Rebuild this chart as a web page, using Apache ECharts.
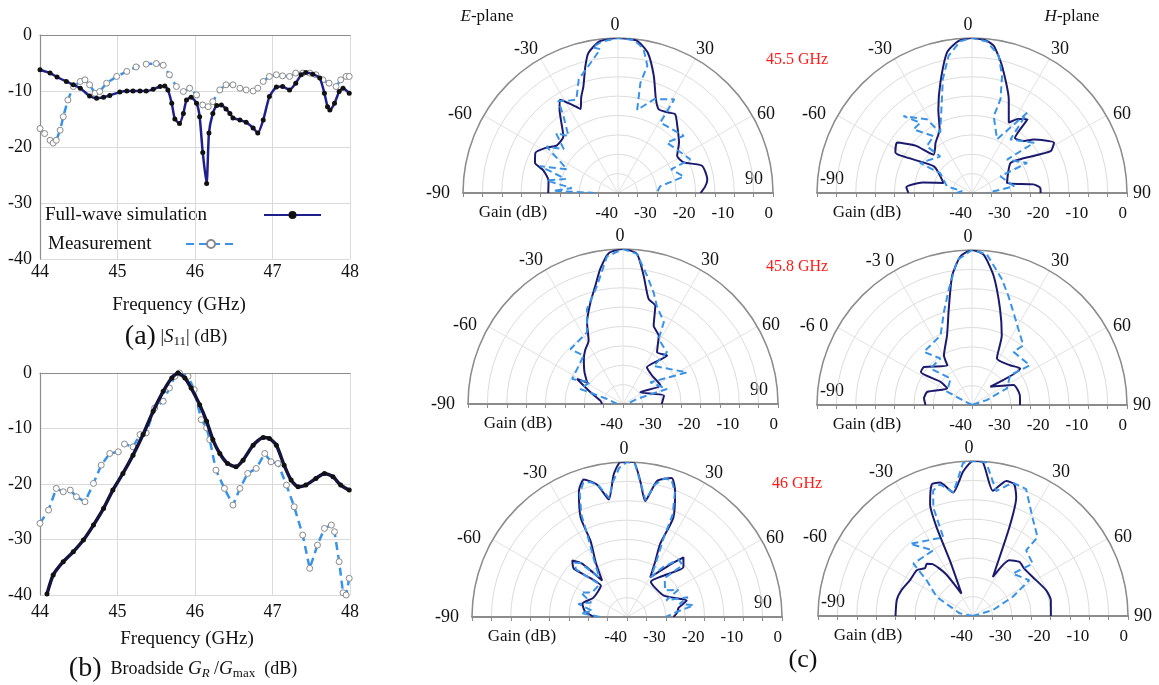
<!DOCTYPE html>
<html>
<head>
<meta charset="utf-8">
<script src="https://cdn.jsdelivr.net/npm/echarts@6/dist/echarts.min.js"></script>
<style>
  html, body { margin: 0; padding: 0; background: #fff; }
  #main { width: 1159px; height: 685px; }
</style>
</head>
<body>
<div id="main"></div>
<script>
// (a) |S11| in dB, [GHz, dB]
const s11Sim = [[44.00,-6.2],[44.13,-6.8],[44.22,-7.5],[44.34,-8.3],[44.43,-8.9],[44.52,-9.5],[44.64,-10.9],[44.73,-11.3],[44.82,-11.1],[44.90,-10.8],[45.03,-10.2],[45.12,-10.0],[45.20,-10.0],[45.29,-10.0],[45.37,-10.0],[45.46,-9.7],[45.55,-9.2],[45.61,-9.1],[45.65,-9.8],[45.70,-12.2],[45.74,-15.0],[45.80,-15.8],[45.85,-14.0],[45.89,-11.6],[45.95,-11.1],[46.02,-12.2],[46.06,-14.6],[46.10,-21.0],[46.15,-26.5],[46.18,-17.5],[46.23,-14.0],[46.28,-12.6],[46.34,-12.5],[46.40,-13.2],[46.45,-14.0],[46.49,-14.8],[46.58,-15.2],[46.66,-15.6],[46.75,-16.6],[46.81,-17.5],[46.88,-15.2],[46.96,-11.0],[47.05,-9.3],[47.13,-9.2],[47.22,-9.8],[47.30,-8.6],[47.37,-7.1],[47.43,-6.7],[47.52,-7.0],[47.61,-7.7],[47.67,-10.4],[47.71,-12.8],[47.74,-13.4],[47.80,-12.2],[47.86,-10.1],[47.91,-9.5],[47.99,-10.4]];
const s11Meas = [[44.00,-16.7],[44.06,-17.6],[44.13,-18.8],[44.17,-19.3],[44.21,-18.8],[44.26,-17.0],[44.30,-14.6],[44.36,-11.6],[44.43,-9.2],[44.52,-8.3],[44.58,-8.0],[44.64,-8.9],[44.71,-10.4],[44.77,-10.1],[44.86,-8.6],[44.99,-7.4],[45.12,-6.5],[45.24,-5.7],[45.37,-5.2],[45.50,-5.1],[45.59,-5.4],[45.67,-7.1],[45.76,-9.2],[45.85,-10.1],[45.93,-9.5],[46.02,-10.7],[46.10,-12.5],[46.17,-12.8],[46.23,-11.9],[46.32,-9.8],[46.40,-8.9],[46.49,-8.9],[46.58,-9.5],[46.66,-9.8],[46.75,-10.0],[46.81,-9.5],[46.88,-8.3],[46.96,-7.4],[47.05,-7.1],[47.13,-7.3],[47.22,-7.4],[47.30,-6.8],[47.39,-6.8],[47.48,-6.8],[47.56,-7.1],[47.65,-8.0],[47.73,-8.6],[47.82,-9.2],[47.88,-8.0],[47.95,-7.4],[47.99,-7.4]];

// (b) broadside G_R/G_max in dB, [GHz, dB]
const gainSim = [[44.09,-39.8],[44.17,-36.4],[44.30,-34.0],[44.43,-32.2],[44.56,-30.1],[44.69,-27.4],[44.82,-24.4],[44.94,-21.1],[45.07,-18.1],[45.20,-14.8],[45.33,-11.1],[45.46,-6.9],[45.59,-3.3],[45.70,-0.9],[45.78,0],[45.87,-0.9],[45.95,-2.7],[46.06,-5.7],[46.15,-8.7],[46.23,-12.0],[46.32,-14.5],[46.42,-16.3],[46.53,-16.9],[46.62,-15.7],[46.75,-13.0],[46.88,-11.6],[46.96,-11.8],[47.05,-13.0],[47.15,-16.6],[47.24,-19.3],[47.33,-20.5],[47.43,-20.2],[47.56,-19.0],[47.67,-18.1],[47.78,-18.7],[47.88,-20.2],[47.99,-21.1]];
const gainMeas = [[44.00,-27.1],[44.11,-24.7],[44.21,-20.8],[44.30,-21.4],[44.39,-21.1],[44.47,-22.3],[44.58,-23.2],[44.69,-19.9],[44.79,-16.6],[44.90,-14.5],[45.01,-14.2],[45.09,-12.8],[45.20,-13.3],[45.29,-11.1],[45.37,-10.8],[45.48,-6.3],[45.59,-5.1],[45.67,-2.7],[45.74,-0.6],[45.80,0],[45.91,-0.6],[45.99,-3.0],[46.08,-8.4],[46.15,-9.9],[46.19,-12.0],[46.27,-17.5],[46.38,-20.8],[46.49,-23.8],[46.58,-20.8],[46.68,-18.1],[46.79,-17.2],[46.90,-14.5],[46.98,-16.0],[47.07,-16.3],[47.18,-20.2],[47.28,-24.1],[47.39,-29.2],[47.48,-35.2],[47.58,-31.0],[47.67,-28.0],[47.76,-27.4],[47.80,-28.6],[47.86,-34.0],[47.91,-39.6],[47.95,-40.0],[47.99,-37.0]];

// (c) radiation patterns, [angle deg, gain dB]
const e455Sim = [[-90,-22],[-80,-21.8],[-73,-19.8],[-70,-17.2],[-64,-16.3],[-58,-18],[-52,-20],[-44,-19.7],[-35,-13.7],[-32,-11.6],[-28,-14],[-24,-16.3],[-21,-13.5],[-18,-11.1],[-14.5,-6.3],[-12,-3.1],[-7,-0.6],[0,0],[7,-0.4],[12,-3],[17,-8.4],[22,-13.9],[26,-16],[32,-15.5],[36,-14.9],[41.5,-16.9],[50.5,-19.6],[58,-22],[65,-21.3],[72,-17.2],[81.5,-16.7],[86,-17.5],[90,-18.7]];
const e455Meas = [[-90,-34],[-88,-23.3],[-84,-28],[-80,-21.3],[-75,-26],[-71,-18.7],[-65,-25.5],[-57,-18],[-51,-22],[-46,-17.8],[-41,-20.5],[-35,-15.3],[-33,-11.7],[-28,-13],[-24,-13.6],[-19,-8.9],[-13,-6.3],[-7,-2.6],[-10,-1.8],[-6,-0.7],[0,0],[6,-0.3],[10,-2.2],[13,-6.3],[11.5,-11],[13,-18],[21,-14.1],[31,-11.8],[31,-18.8],[49,-17.5],[44,-21.9],[65,-19.4],[66,-25],[76,-22.5],[81,-29],[90,-30]];
const h455Sim = [[-90,-23.6],[-85,-23],[-78,-27],[-70.6,-32.2],[-55,-28],[-62,-17.6],[-56,-16.7],[-50,-21],[-45,-26],[-36,-24],[-27,-21.6],[-22,-16.8],[-16,-10.4],[-10,-3.1],[-5,-0.6],[0,0],[5,-0.4],[8.4,-1.6],[13.3,-6.3],[21.4,-14],[27.6,-19.5],[32,-17.5],[37,-16.2],[38,-22],[45,-21],[49,-19],[58.5,-15.2],[62,-17],[56,-24],[52,-27.4],[74,-30.6],[82,-24],[86,-22.3],[90,-22.3]];
const h455Meas = [[-90,-36],[-80,-37.4],[-75,-33.3],[-58,-30.3],[-60,-24.5],[-41,-27.5],[-44,-23.2],[-34,-22.3],[-42.6,-17.7],[-36.4,-17.5],[-41.7,-13.4],[-31.5,-17.7],[-27.8,-22.4],[-17.8,-14.6],[-14.4,-9.7],[-9.7,-4.1],[-4.4,-0.7],[0,0],[5.6,-0.7],[11,-3.9],[14.4,-8.8],[16.9,-14.7],[15.8,-19.4],[25,-24.7],[34.5,-14.9],[35.7,-23],[51,-19.4],[46.4,-27.5],[61.4,-23.8],[59.5,-31.5],[81,-29],[85.6,-34.4],[90,-36]];
const e458Sim = [[-90,-34.6],[-81.6,-34.1],[-70,-31],[-61.5,-26.5],[-59,-29.2],[-50,-27],[-41,-24.6],[-35,-23],[-28.5,-21.4],[-23.8,-17],[-17.8,-12.5],[-13,-8.5],[-9.5,-4.6],[-5.4,-0.9],[0,0],[5.3,-1.1],[9.1,-6.4],[13.7,-12.1],[18.2,-13.3],[21.4,-18.3],[27.6,-20.1],[33.3,-24],[42.3,-23.1],[33.2,-28.7],[45,-29.5],[63.8,-29.2],[56,-34.6],[78.4,-29.2],[90,-30]];
const e458Meas = [[-90,-38.5],[-72.6,-35.7],[-70.6,-28.3],[-56.4,-29.8],[-63.9,-25.4],[-39.1,-23.9],[-43.8,-20.4],[-26.7,-19.3],[-20.8,-13.8],[-12.4,-8.8],[-6.2,-1.7],[0,0],[5.3,-1.1],[10.6,-6.3],[15.4,-10.2],[19,-13.2],[26.5,-16.4],[28.8,-20.9],[40.4,-22.5],[38.7,-27.4],[63.7,-21.6],[51.6,-31],[71.2,-28],[70,-36.1],[90,-39]];
const h458Sim = [[-90,-28],[-82,-27.5],[-73.5,-28],[-56.3,-32.3],[-53.6,-29.9],[-57.2,-24.3],[-51.6,-24.2],[-32,-28],[-29.5,-25.3],[-19.7,-20.9],[-13.6,-14.5],[-8.7,-6.2],[-4.4,-1.5],[0,0],[4.4,-1.1],[9.5,-6.2],[16.3,-14.2],[23.2,-20.5],[28.2,-26.4],[43.8,-25.8],[52.8,-24.4],[45,-33.3],[64.4,-28.1],[78.3,-27.4],[90,-27.6]];
const h458Meas = [[-90,-40],[-63,-37],[-62,-32.7],[-39,-31.2],[-48.7,-25.7],[-34.2,-25.5],[-42.2,-21.5],[-24.3,-20.3],[-16.9,-15],[-11.3,-9.5],[-5.8,-2.4],[0,0],[5.6,-0.9],[13.3,-6.6],[18.4,-10.3],[24.1,-13.8],[31.3,-17],[40.7,-19.7],[38,-22.6],[55.6,-21.9],[52,-27.5],[64.5,-30],[71.6,-36],[90,-40]];
const e46Sim = [[-90,-31.5],[-82,-29],[-73.5,-28],[-60,-30],[-40,-29.5],[-47.8,-21.5],[-44,-19.7],[-40,-22],[-34.3,-28.6],[-30,-24],[-25.6,-18.2],[-25,-11.7],[-20.9,-5.2],[-17.4,-2.8],[-12.7,-5],[-8.8,-9.3],[-5.3,-3],[-2.5,0],[0,0],[2.5,0],[5.6,-4.8],[8.9,-9.7],[12.4,-4.1],[17.8,-2.3],[20.9,-5.2],[25,-11.7],[24.4,-19.3],[27,-24],[30.3,-28.1],[40,-22],[43.4,-18.8],[48.6,-20.6],[42,-25.5],[34,-29],[60,-29],[74.5,-24],[80,-26.5],[85,-27],[90,-28]];
const e46Meas = [[-90,-33],[-85,-28],[-80,-31],[-75,-27],[-68,-30],[-62,-26.5],[-55,-29],[-40,-29],[-47,-22],[-44,-20.5],[-41,-21.5],[-35,-27.5],[-30,-23],[-26,-17],[-24,-11],[-21,-6],[-18,-3.5],[-15,-4],[-12,-5.5],[-8.5,-9],[-6,-5],[-3,-1.5],[0,0],[3,-0.5],[6,-5.5],[9,-9.5],[12,-5],[15,-3],[18,-2.8],[21,-5.5],[24,-11],[25,-18],[28,-24],[31,-28],[36,-24],[42,-20],[47,-20.5],[44,-26],[55,-28],[62,-25],[67,-29],[72,-23.5],[76,-26],[80,-22.5],[84,-27],[90,-30]];
const h46Sim = [[-90,-20],[-78,-19.9],[-70,-20.4],[-60.4,-21.3],[-50.9,-21.3],[-45,-22.5],[-41.5,-22],[-38,-23],[-33,-27],[-27.2,-33.5],[-22.6,-24.4],[-22.3,-15.2],[-21,-9.1],[-17.4,-4.4],[-13.9,-4.5],[-9.1,-7.7],[-3.9,-2.6],[0,0],[3.7,-0.3],[9,-7.3],[13.8,-4.1],[17.4,-4.4],[20,-7.4],[22.3,-15.2],[27,-28.7],[33.2,-22.8],[40.7,-21.6],[47.3,-22],[56.8,-21.6],[70.5,-20],[78.5,-19.5],[90,-19.9]];
const h46Meas = [[-90,-40],[-78.7,-36.5],[-62.2,-29.4],[-52.4,-24.9],[-48.7,-19.5],[-31.2,-20.2],[-41.1,-15.3],[-20.7,-18.3],[-20.1,-10.2],[-17.6,-6],[-14.1,-5],[-9,-7.7],[-3.7,-0.4],[0,0],[4.9,-0.2],[10.5,-7.2],[16.6,-4.1],[22.7,-4.5],[31.1,-10.3],[39.3,-13.7],[39,-18.2],[48.7,-19.5],[43.2,-25],[57.6,-22.8],[64.2,-28.6],[73.3,-34.6],[90,-40]];

const freqLabels = ['45.5 GHz', '45.8 GHz', '46 GHz'];
const angleTicks = [-90, -60, -30, 0, 30, 60, 90];

const FONT = '"Liberation Serif", "Times New Roman", serif';
const SIM = '#1c1a6e';
const MEAS = '#3a92e6';
const R = 155;

const panels = [
  { sim: e455Sim, meas: e455Meas, cx: 618, cy: 193, plane: 'E' },
  { sim: h455Sim, meas: h455Meas, cx: 972, cy: 193, plane: 'H' },
  { sim: e458Sim, meas: e458Meas, cx: 623, cy: 404, plane: 'E' },
  { sim: h458Sim, meas: h458Meas, cx: 972, cy: 405, plane: 'H', spaced: true },
  { sim: e46Sim, meas: e46Meas, cx: 627, cy: 617, plane: 'E' },
  { sim: h46Sim, meas: h46Meas, cx: 973, cy: 616, plane: 'H' }
];

// where each angle label sits, relative to the polar centre
const labelOffset = {
  E: { '-90': [-180, 0], '-60': [-158, -79], '-30': [-92, -144], '0': [-3, -168], '30': [87, -144], '60': [148, -79], '90': [136, -14] },
  H: { '-90': [-140, -14], '-60': [-158, -79], '-30': [-92, -144], '0': [-4, -168], '30': [88, -144], '60': [150, -79], '90': [170, 0] }
};

function txt(x, y, text, size, extra) {
  return {
    type: 'text', x: x, y: y, silent: true,
    style: Object.assign({
      text: text, fill: '#111', fontFamily: FONT, fontSize: size,
      align: 'center', verticalAlign: 'middle', textAlign: 'center', textVerticalAlign: 'middle'
    }, extra || {})
  };
}

const chart = echarts.init(document.getElementById('main'));

// left cartesian charts
const grids = [
  { left: 40, top: 35, width: 310, height: 224 },
  { left: 40, top: 373, width: 310, height: 222 }
];
const xAxes = [0, 1].map(i => ({
  gridIndex: i, type: 'value', min: 44, max: 48, interval: 1,
  axisLine: { lineStyle: { color: '#8c8c8c', width: 1.2 } },
  axisTick: { show: false },
  axisLabel: { color: '#111', fontFamily: FONT, fontSize: 18, margin: i === 0 ? 4 : 8 },
  splitLine: { lineStyle: { color: '#dadada' } }
}));
const yAxes = [0, 1].map(i => ({
  gridIndex: i, type: 'value', min: -40, max: 0, interval: 10,
  axisLine: { show: true, lineStyle: { color: '#8c8c8c', width: 1.2 } },
  axisTick: { show: false },
  axisLabel: { color: '#111', fontFamily: FONT, fontSize: 18, margin: 8 },
  splitLine: { lineStyle: { color: '#dadada' } }
}));

const series = [
  {
    name: 'Measurement', type: 'line', xAxisIndex: 0, yAxisIndex: 0, data: s11Meas,
    symbol: 'circle', symbolSize: 6,
    itemStyle: { color: '#fff', borderColor: '#8a8a8a', borderWidth: 1 },
    lineStyle: { color: MEAS, width: 2.5, type: [8, 5] }, z: 3
  },
  {
    name: 'Full-wave simulation', type: 'line', xAxisIndex: 0, yAxisIndex: 0, data: s11Sim,
    smooth: 0.2, symbol: 'circle', symbolSize: 5,
    itemStyle: { color: '#111' },
    lineStyle: { color: '#1f1f8c', width: 2.5 }, z: 4
  },
  {
    name: 'meas-b', type: 'line', xAxisIndex: 1, yAxisIndex: 1, data: gainMeas,
    symbol: 'circle', symbolSize: 6,
    itemStyle: { color: '#fff', borderColor: '#8a8a8a', borderWidth: 1 },
    lineStyle: { color: MEAS, width: 2.5, type: [8, 5] }, z: 3
  },
  {
    name: 'sim-b', type: 'line', xAxisIndex: 1, yAxisIndex: 1, data: gainSim,
    smooth: 0.2, symbol: 'circle', symbolSize: 5,
    itemStyle: { color: '#111' },
    lineStyle: { color: '#14143c', width: 3.5 }, z: 4
  }
];

// polar panels (c)
const polars = [], angleAxes = [], radiusAxes = [];
const graphics = [];
panels.forEach((p, i) => {
  polars.push({ center: [p.cx, p.cy], radius: R });
  angleAxes.push({
    polarIndex: i, type: 'value', min: -90, max: 90, interval: 30,
    startAngle: 180, endAngle: 0, clockwise: true,
    axisLine: { lineStyle: { color: '#8c8c8c', width: 1.5 } },
    axisTick: { show: false },
    axisLabel: { show: false },
    splitLine: { lineStyle: { color: '#e2e2e2' } }
  });
  radiusAxes.push({
    polarIndex: i, type: 'value', min: -40, max: 0, interval: 5,
    axisLine: { show: false }, axisTick: { show: false }, axisLabel: { show: false },
    splitLine: { lineStyle: { color: '#dcdcdc' } }
  });
  // baseline gain scale under each half polar
  const gi = grids.length;
  grids.push({ left: p.cx - R, top: p.cy - 20, width: 2 * R, height: 20 });
  xAxes.push({
    gridIndex: gi, type: 'value', min: -40, max: 40, interval: 5,
    axisLine: { lineStyle: { color: '#8c8c8c', width: 1.8 } },
    axisTick: { show: true, length: 4, lineStyle: { color: '#8c8c8c' } },
    axisLabel: {
      color: '#111', fontFamily: FONT, fontSize: 17, margin: 12, align: 'right',
      formatter: v => (v >= 0 && v % 10 === 0) ? String(v - 40) : ''
    },
    splitLine: { show: false }
  });
  yAxes.push({ gridIndex: gi, type: 'value', min: 0, max: 1, show: false });

  series.push({
    name: 'sim-' + i, type: 'line', coordinateSystem: 'polar', polarIndex: i,
    data: p.sim.map(d => [d[1], d[0]]), showSymbol: false, smooth: 0.2,
    lineStyle: { color: SIM, width: 2 }, z: 3
  });
  series.push({
    name: 'meas-' + i, type: 'line', coordinateSystem: 'polar', polarIndex: i,
    data: p.meas.map(d => [d[1], d[0]]), showSymbol: false,
    lineStyle: { color: MEAS, width: 2, type: [7, 4] }, z: 4
  });

  angleTicks.forEach(a => {
    const off = labelOffset[p.plane][String(a)];
    let s = String(a);
    if (p.spaced && (a === -30 || a === -60)) s = s.replace(/0$/, ' 0');
    graphics.push(txt(p.cx + off[0], p.cy + off[1], s, 18));
  });
  graphics.push(txt(p.cx - 105, p.cy + 20, 'Gain (dB)', 17));
});

// text annotations
const rich = {
  big: { fontSize: 28, fontFamily: FONT, fill: '#111' },
  n: { fontSize: 18, fontFamily: FONT, fill: '#111' },
  it: { fontSize: 19, fontFamily: FONT, fontStyle: 'italic', fill: '#111' },
  sub: { fontSize: 13, fontFamily: FONT, fill: '#111', padding: [10, 0, 0, 0] },
  subi: { fontSize: 13, fontFamily: FONT, fontStyle: 'italic', fill: '#111', padding: [10, 0, 0, 0] }
};
const planeRich = {
  it: { fontSize: 17, fontFamily: FONT, fontStyle: 'italic', fill: '#111' },
  n: { fontSize: 17, fontFamily: FONT, fill: '#111' }
};
graphics.push(txt(179, 305, 'Frequency (GHz)', 19));
graphics.push(txt(187, 639, 'Frequency (GHz)', 19));
graphics.push(txt(176, 337, '{big|(a)} {n||}{it|S}{sub|11}{n|| (dB)}', 18, { rich: rich }));
graphics.push(txt(183, 669, '{big|(b)}  {n|Broadside }{it|G}{subi|R}{n| /}{it|G}{sub|max}{n|  (dB)}', 18, { rich: rich }));
graphics.push(txt(487, 17, '{it|E}{n|-plane}', 17, { rich: planeRich }));
graphics.push(txt(1072, 17, '{it|H}{n|-plane}', 17, { rich: planeRich }));
[60, 267, 484].forEach((y, k) => graphics.push(txt(797, y, freqLabels[k], 16, { fill: '#ff1a1a' })));
graphics.push(txt(803, 660, '(c)', 26));
// legend captions of chart (a); the line samples come from the legends below
graphics.push(txt(45, 215, 'Full-wave simulation', 19, { align: 'left', textAlign: 'left' }));
graphics.push(txt(48, 244, 'Measurement', 19, { align: 'left', textAlign: 'left' }));

chart.setOption({
  animation: false,
  backgroundColor: '#fff',
  grid: grids,
  xAxis: xAxes,
  yAxis: yAxes,
  polar: polars,
  angleAxis: angleAxes,
  radiusAxis: radiusAxes,
  legend: [
    {
      data: ['Full-wave simulation'], left: 258, top: 205,
      itemWidth: 57, itemHeight: 10, selectedMode: false,
      formatter: () => ''
    },
    {
      data: ['Measurement'], left: 180, top: 234,
      itemWidth: 50, itemHeight: 10, selectedMode: false,
      formatter: () => ''
    }
  ],
  graphic: graphics,
  series: series
});
</script>
</body>
</html>
